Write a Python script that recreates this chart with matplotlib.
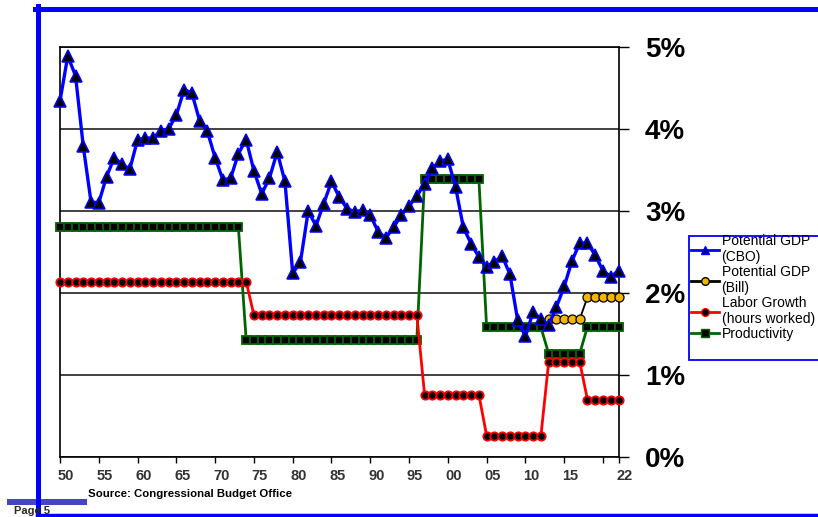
import numpy as np
import matplotlib
matplotlib.use('Agg')
import matplotlib.pyplot as plt
from matplotlib.lines import Line2D
from matplotlib.patches import Rectangle
from matplotlib.transforms import ScaledTranslation

plt.rcParams['font.family'] = ['Liberation Sans', 'DejaVu Sans']

# annual growth rates, %
years = list(range(1950, 2023))
gdp_cbo = [4.34, 4.89, 4.65, 3.79, 3.11, 3.10, 3.42, 3.65, 3.57, 3.51,
           3.87, 3.89, 3.89, 3.98, 4.00, 4.17, 4.48, 4.44, 4.10, 3.97,
           3.65, 3.38, 3.40, 3.70, 3.87, 3.49, 3.21, 3.40, 3.72, 3.36,
           2.24, 2.38, 3.00, 2.82, 3.09, 3.36, 3.17, 3.03, 2.99, 3.01,
           2.95, 2.75, 2.67, 2.80, 2.95, 3.06, 3.18, 3.33, 3.52, 3.61,
           3.63, 3.29, 2.80, 2.60, 2.44, 2.32, 2.38, 2.45, 2.23, 1.67,
           1.47, 1.77, 1.68, 1.61, 1.83, 2.08, 2.39, 2.61, 2.61, 2.46,
           2.27, 2.20, 2.27]
productivity = ([2.80] * 24 + [1.43] * 23 + [3.39] * 8 + [1.58] * 8
                + [1.26] * 5 + [1.59] * 5)
labor = ([2.14] * 25 + [1.73] * 22 + [0.76] * 8 + [0.26] * 8
         + [1.16] * 5 + [0.70] * 5)
bill_years = list(range(2013, 2023))
gdp_bill = [1.68] * 5 + [1.95] * 5

tick_years = list(range(1950, 2021, 5)) + [2022]
tick_labels = ['50', '55', '60', '65', '70', '75', '80', '85', '90', '95',
               '00', '05', '10', '15', '', '22']

W, H = 818, 517
def fx(x):
    return x / W
def fy(y):
    return 1 - y / H

fig = plt.figure(figsize=(W / 100, H / 100), dpi=100)
ax = fig.add_axes([fx(60), fy(457), fx(618.5) - fx(60), fy(47) - fy(457)])

ax.plot(years, productivity, color='#006400', lw=2.0, marker='s', ms=6.3,
        mfc='black', mec='#006400', mew=1.3, clip_on=False, zorder=3)
ax.plot(years, labor, color='#ff0000', lw=2.0, marker='o', ms=6.0,
        mfc='black', mec='#ff0000', mew=1.3, clip_on=False, zorder=3)
ax.plot(bill_years, gdp_bill, color='black', lw=1.3, marker='o', ms=6.5,
        mfc='#f2b600', mec='black', mew=0.9, clip_on=False, zorder=4)
ax.plot(years, gdp_cbo, color='#0000ff', lw=2.4, marker='^', ms=8,
        mfc='black', mec='#0000ff', mew=1.1, clip_on=False, zorder=5)

ax.set_xlim(1950, 2022)
ax.set_ylim(0, 5)

ax.yaxis.tick_right()
ax.set_yticks(range(6))
ax.set_yticklabels([f'{v}%' for v in range(6)], fontsize=20, fontweight='bold')
ax.tick_params(axis='y', direction='out', length=7, width=1, pad=12)
ax.grid(axis='y', color='#222222', lw=1.2, zorder=1)

ax.set_xticks(tick_years)
ax.set_xticklabels(tick_labels, fontsize=10.5, fontweight='bold', color='#333333')
ax.tick_params(axis='x', direction='out', length=4, width=1, pad=5)
for lab in ax.get_xticklabels():
    lab.set_transform(lab.get_transform() + ScaledTranslation(0.06, 0, fig.dpi_scale_trans))

for sp in ax.spines.values():
    sp.set_color('black')
    sp.set_linewidth(1.2)

# legend box
fig.add_artist(Rectangle((fx(689), fy(360)), fx(835) - fx(689), fy(236) - fy(360),
                         transform=fig.transFigure, fill=True, fc='white',
                         ec='#0000ff', lw=1.3))
handles = [
    Line2D([], [], color='#0000ff', lw=2, marker='^', ms=5.5, mfc='#000080', mec='#0000ff'),
    Line2D([], [], color='black', lw=2, marker='o', ms=5.5, mfc='#f2b600', mec='black'),
    Line2D([], [], color='#ff0000', lw=2, marker='o', ms=5.5, mfc='black', mec='#ff0000'),
    Line2D([], [], color='#006400', lw=2, marker='s', ms=5.5, mfc='black', mec='#006400'),
]
labels = ['Potential GDP\n(CBO)', 'Potential GDP\n(Bill)',
          'Labor Growth\n(hours worked)', 'Productivity']
fig.legend(handles, labels, loc='upper left', bbox_to_anchor=(fx(691), fy(234)),
           frameon=False, handlelength=2.0, handletextpad=0.2,
           labelspacing=0.05, borderpad=0, borderaxespad=0,
           prop={'size': 10})

# page frame
blue = '#0000ff'
fig.add_artist(Line2D([fx(35), 1], [fy(8.5), fy(8.5)], color=blue, lw=3.6, transform=fig.transFigure))
fig.add_artist(Line2D([fx(37.5), fx(37.5)], [fy(6), 0], color=blue, lw=3.6, transform=fig.transFigure))
fig.add_artist(Line2D([fx(37), 1], [fy(515), fy(515)], color=blue, lw=2.5, transform=fig.transFigure))
fig.add_artist(Rectangle((fx(7), fy(505)), fx(87) - fx(7), fy(499) - fy(505),
                         transform=fig.transFigure, color='#4646c4', lw=0))

fig.text(fx(88), fy(494), 'Source: Congressional Budget Office', fontsize=8.2,
         fontweight='bold', va='center', ha='left')
fig.text(fx(14), fy(510.5), 'Page 5', fontsize=8, fontweight='bold', color='#2a2a2a',
         va='center', ha='left')

fig.savefig('out.png', dpi=100)
